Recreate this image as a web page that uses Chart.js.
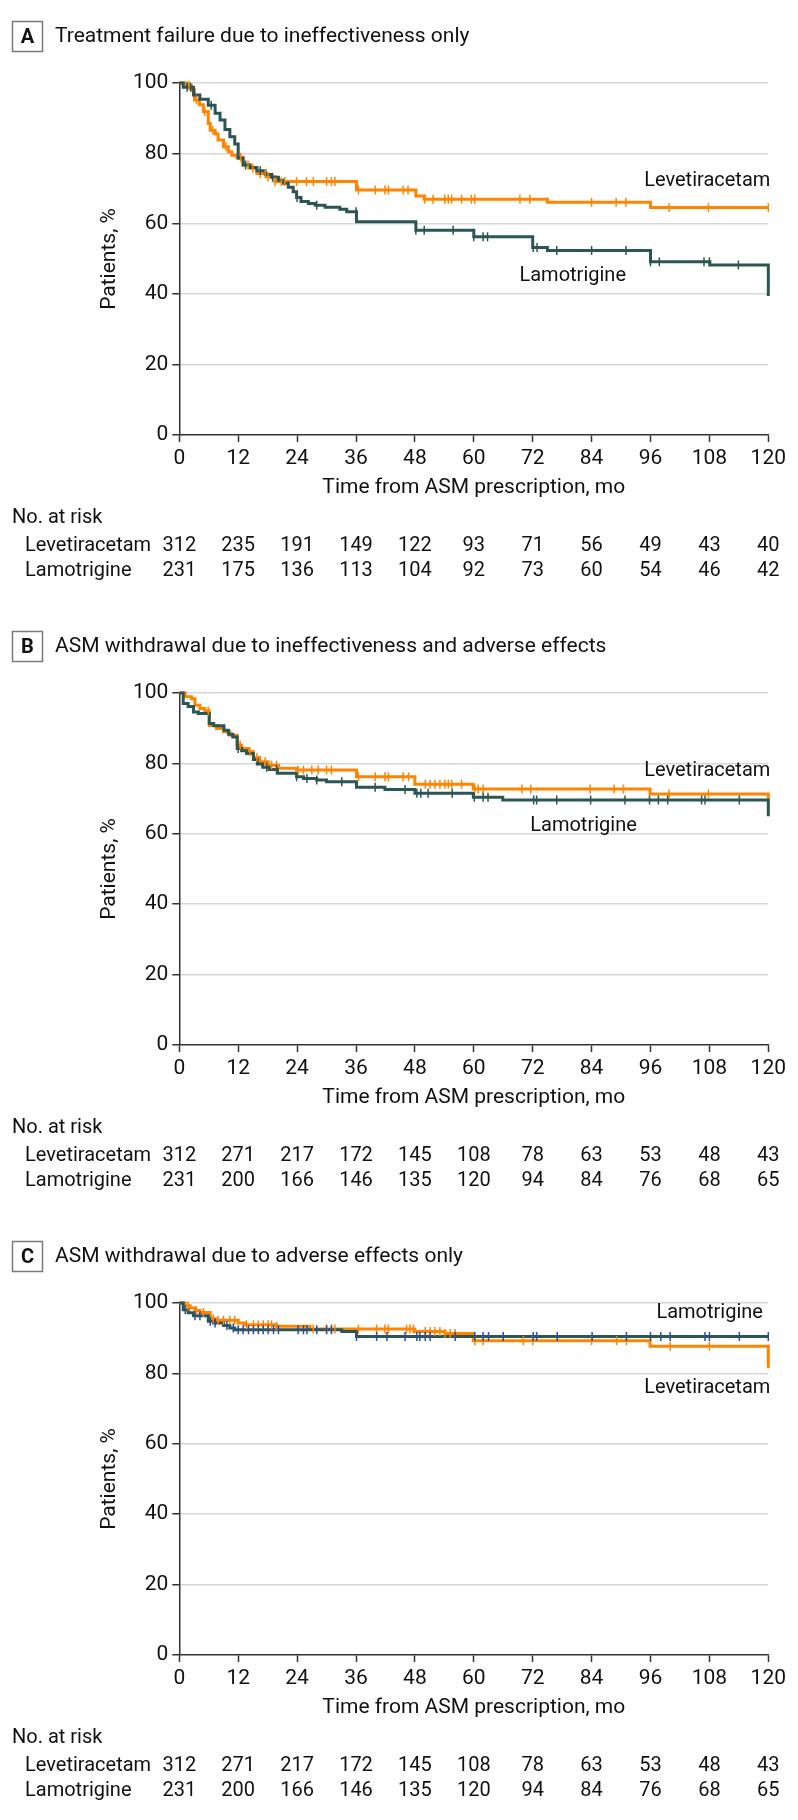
<!DOCTYPE html>
<html>
<head>
<meta charset="utf-8">
<script src="https://cdn.jsdelivr.net/npm/chart.js@4.4.0/dist/chart.umd.min.js"></script>
<style>
  body { margin: 0; background: #fff; }
  .panel { position: absolute; left: 0; width: 798px; }
  canvas { display: block; }
</style>
</head>
<body>
<div class="panel" style="top:0px"><canvas id="chartA" width="798" height="610"></canvas></div>
<div class="panel" style="top:610px"><canvas id="chartB" width="798" height="610"></canvas></div>
<div class="panel" style="top:1220px"><canvas id="chartC" width="798" height="600"></canvas></div>
<script>
// x ticks (months) shared by all panels
const monthTicks = [0, 12, 24, 36, 48, 60, 72, 84, 96, 108, 120];
const seriesNames = ["Levetiracetam", "Lamotrigine"];

// ---- Panel A: treatment failure due to ineffectiveness only
const aLevT = [0, 1.5, 2.5, 3.1, 4.1, 4.9, 5.9, 6.3, 7.3, 7.9, 9.0, 10.0, 10.7, 11.7, 13.0, 14.4, 15.8, 17.8, 19.5, 36.1, 48.2, 49.9, 75.0, 96.0, 120];
const aLevS = [100, 99.3, 98.0, 95.2, 93.8, 91.9, 88.5, 86.6, 85.5, 83.8, 81.9, 80.5, 79.5, 78.9, 76.7, 75.8, 74.3, 73.4, 72.0, 69.6, 67.9, 67.0, 66.1, 64.6, 64.6];
const aLamT = [0, 0.8, 2.9, 4.2, 5.9, 7.3, 8.3, 9.3, 10.3, 11.3, 12.0, 13.0, 14.4, 15.8, 17.5, 18.8, 20.2, 21.2, 22.2, 23.2, 23.9, 24.8, 26.3, 27.7, 29.7, 32.7, 34.1, 36.1, 48.2, 60.0, 72.0, 75.0, 96.0, 108.1, 120];
const aLamS = [100, 98.8, 96.6, 95.4, 93.7, 91.4, 89.5, 86.8, 84.7, 82.7, 78.6, 76.7, 76.0, 75.1, 74.0, 73.2, 72.4, 71.5, 70.4, 69.1, 67.5, 66.3, 65.8, 65.3, 64.7, 64.1, 63.4, 60.6, 58.2, 56.3, 53.3, 52.4, 49.2, 48.3, 39.5];
const aLevCens = [2, 3.5, 5.2, 6.8, 9.5, 12.5, 14, 15, 16.5, 17.5, 18.1, 19.5, 20.8, 21.5, 23.9, 25.9, 27.3, 30, 31, 31.7, 36.5, 39.9, 41.9, 42.6, 45.6, 46.6, 50, 51.7, 54.1, 54.8, 55.5, 57.5, 59.5, 60.2, 69.4, 71.4, 84, 89, 91, 99.8, 107.8, 120];
const aLamCens = [1.6, 2.3, 6.5, 13.5, 16.5, 19, 24, 28, 36, 48.2, 49.9, 55.8, 60, 61.9, 62.8, 72.1, 72.9, 76.9, 84, 91, 96, 97.8, 106.9, 108, 113.9];
const aLevRisk = [312, 235, 191, 149, 122, 93, 71, 56, 49, 43, 40];
const aLamRisk = [231, 175, 136, 113, 104, 92, 73, 60, 54, 46, 42];

// ---- Panel B: ineffectiveness and adverse effects
const bLevT = [0, 1.2, 2.5, 3.2, 4.2, 5.2, 6.1, 7.6, 9.0, 10.3, 11.8, 12.7, 14.1, 15.1, 16.4, 18.1, 20.2, 23.9, 36.1, 48.0, 59.9, 95.9, 120];
const bLevS = [100, 98.9, 98.4, 96.5, 95.6, 94.9, 90.8, 89.9, 89.0, 88.0, 85.2, 84.2, 83.3, 81.7, 80.5, 79.5, 78.6, 78.1, 76.2, 74.1, 72.7, 71.3, 69.0];
const bLamT = [0, 0.8, 1.8, 2.9, 3.9, 6.1, 7.0, 9.1, 10.0, 10.9, 11.8, 12.7, 13.7, 15.1, 15.9, 17.0, 18.3, 20.0, 23.9, 25.3, 28.0, 30.0, 36.1, 41.9, 48.0, 59.9, 65.9, 120];
const bLamS = [100, 97.0, 96.2, 94.6, 94.2, 91.3, 90.7, 89.4, 88.3, 87.5, 84.2, 83.6, 82.8, 81.1, 79.8, 78.9, 78.3, 77.2, 76.2, 75.7, 75.3, 74.8, 73.2, 72.6, 71.5, 70.4, 69.6, 65.0];
const bLevCens = [5.9, 12.4, 14.4, 15.8, 17.5, 18.8, 19.8, 24.2, 25.3, 27.0, 28.3, 30.0, 31.0, 36.5, 39.9, 41.9, 42.6, 45.6, 46.7, 50.1, 51.1, 52.1, 53.1, 54.1, 54.8, 55.5, 57.5, 60.2, 60.9, 61.9, 69.8, 71.6, 83.7, 88.6, 90.5, 99.8, 107.8];
const bLamCens = [12.0, 17.8, 19.8, 23.9, 26.0, 28.0, 33.1, 39.9, 46.0, 48.4, 49.2, 50.7, 55.6, 60.1, 61.9, 62.9, 72.2, 72.8, 76.9, 83.8, 90.8, 95.8, 97.6, 99.5, 106.4, 107.1, 114.1];
const bLevRisk = [312, 271, 217, 172, 145, 108, 78, 63, 53, 48, 43];
const bLamRisk = [231, 200, 166, 146, 135, 120, 94, 84, 76, 68, 65];

// ---- Panel C: adverse effects only
const cLevT = [0, 1.2, 2.2, 3.2, 4.2, 6.3, 7.6, 12.0, 13.3, 19.8, 26.6, 48.0, 54.1, 59.9, 95.9, 120];
const cLevS = [100, 99.2, 98.6, 97.9, 97.3, 95.5, 95.1, 94.3, 93.8, 93.4, 92.6, 91.9, 91.3, 89.3, 87.7, 81.5];
const cLamT = [0, 0.8, 1.8, 2.9, 5.9, 7.0, 9.0, 10.3, 11.3, 33.1, 36.1, 120];
const cLamS = [100, 98.1, 97.2, 96.4, 94.8, 94.3, 93.6, 92.9, 92.4, 91.9, 90.5, 90.5];
const cLevCens = [1.8, 3.5, 4.9, 6.9, 7.9, 9.0, 10.3, 11.3, 13.7, 15.1, 16.1, 17.1, 18.1, 18.8, 19.8, 27.3, 30, 31, 31.7, 36.5, 40.2, 41.9, 42.6, 46.3, 47, 47.7, 50.1, 51.1, 52.1, 53.1, 54.1, 55.2, 56.2, 60.2, 61.9, 70.1, 72, 84, 89.1, 91.1, 100, 108];
const cLamCens = [1.2, 3.2, 4.2, 6.3, 7.3, 9.7, 11, 12, 13, 14.1, 15.1, 16.1, 17.1, 18.1, 19.2, 20.2, 24.2, 25.3, 26, 28, 30, 31, 36.1, 40.2, 42.3, 46, 48.4, 49, 50.1, 51.1, 56.2, 60.2, 61.9, 63, 66, 72.1, 72.8, 77, 84.1, 91.1, 96, 98.1, 100, 107.1, 108, 114.1, 120];
const cLevRisk = [312, 271, 217, 172, 145, 108, 78, 63, 53, 48, 43];
const cLamRisk = [231, 200, 166, 146, 135, 120, 94, 84, 76, 68, 65];

const ORANGE = "#ff8400";
const TEAL = "#2b5654";
const BLUE = "#2b4d9e";
const TEXT = "#111";
const FONT = "Roboto";

function steps(T, S) {
  return T.map((t, i) => ({ x: t, y: S[i] }));
}

// survival value at time t
function survAt(T, S, t) {
  let v = S[0];
  for (let i = 0; i < T.length; i++) {
    if (T[i] <= t && !(T[i] === 120 && i === T.length - 1 && S[i] < S[i - 1] && t < 120)) v = S[i];
  }
  return v;
}

function cens(T, S, C) {
  return C.map((t) => ({ x: t, y: survAt(T, S, t) }));
}

const panels = [
  {
    id: "chartA", height: 610, letter: "A",
    title: "Treatment failure due to ineffectiveness only",
    lev: [aLevT, aLevS, aLevCens], lam: [aLamT, aLamS, aLamCens],
    risk: [aLevRisk, aLamRisk], lamCensColor: TEAL,
    labels: [
      { text: seriesNames[0], x: 120, y: 72.2 },
      { text: seriesNames[1], x: 90.6, y: 45.2 },
    ],
  },
  {
    id: "chartB", height: 610, letter: "B",
    title: "ASM withdrawal due to ineffectiveness and adverse effects",
    lev: [bLevT, bLevS, bLevCens], lam: [bLamT, bLamS, bLamCens],
    risk: [bLevRisk, bLamRisk], lamCensColor: TEAL,
    labels: [
      { text: seriesNames[0], x: 120, y: 77.9 },
      { text: seriesNames[1], x: 92.8, y: 62.3 },
    ],
  },
  {
    id: "chartC", height: 600, letter: "C",
    title: "ASM withdrawal due to adverse effects only",
    lev: [cLevT, cLevS, cLevCens], lam: [cLamT, cLamS, cLamCens],
    risk: [cLevRisk, cLamRisk], lamCensColor: BLUE,
    labels: [
      { text: seriesNames[1], x: 118.5, y: 97.2 },
      { text: seriesNames[0], x: 120, y: 75.9 },
    ],
  },
];

function makePanel(p) {
  const textPlugin = {
    id: "kmText",
    afterDraw(chart) {
      const ctx = chart.ctx;
      const xs = chart.scales.x;
      const ys = chart.scales.y;
      ctx.save();
      // panel letter box
      ctx.strokeStyle = "#7a7a7a";
      ctx.lineWidth = 1.5;
      ctx.strokeRect(12.5, 21.5, 30, 30);
      ctx.fillStyle = TEXT;
      ctx.textBaseline = "middle";
      ctx.textAlign = "center";
      ctx.font = "bold 20px " + FONT;
      ctx.fillText(p.letter, 27.5, 37.5);
      ctx.textAlign = "left";
      ctx.font = "21px " + FONT;
      ctx.fillText(p.title, 55, 37);

      // axis titles
      ctx.textAlign = "center";
      ctx.font = "21px " + FONT;
      ctx.fillText("Time from ASM prescription, mo", (xs.left + xs.right) / 2, 488);
      ctx.save();
      ctx.translate(110, (ys.top + ys.bottom) / 2);
      ctx.rotate(-Math.PI / 2);
      ctx.fillText("Patients, %", 0, 0);
      ctx.restore();

      // curve labels
      ctx.textAlign = "right";
      ctx.font = "20px " + FONT;
      p.labels.forEach((l) => {
        ctx.fillText(l.text, xs.getPixelForValue(l.x) + 2, ys.getPixelForValue(l.y));
      });

      // number at risk table
      ctx.textAlign = "left";
      ctx.fillText("No. at risk", 12, 518);
      ctx.fillText(seriesNames[0], 25, 546);
      ctx.fillText(seriesNames[1], 25, 571);
      ctx.textAlign = "center";
      monthTicks.forEach((m, i) => {
        const px = xs.getPixelForValue(m);
        ctx.fillText(String(p.risk[0][i]), px, 546);
        ctx.fillText(String(p.risk[1][i]), px, 571);
      });
      ctx.restore();
    },
  };

  new Chart(document.getElementById(p.id), {
    type: "line",
    data: {
      datasets: [
        {
          label: seriesNames[0],
          data: steps(p.lev[0], p.lev[1]),
          borderColor: ORANGE, borderWidth: 3, stepped: "before",
          pointRadius: 0, fill: false, clip: false, order: 4,
        },
        {
          label: seriesNames[1],
          data: steps(p.lam[0], p.lam[1]),
          borderColor: TEAL, borderWidth: 3, stepped: "before",
          pointRadius: 0, fill: false, clip: false, order: 3,
        },
        {
          type: "scatter",
          label: seriesNames[0] + " censored",
          data: cens(p.lev[0], p.lev[1], p.lev[2]),
          pointStyle: "line", rotation: 90, pointRadius: 4.5,
          borderColor: ORANGE, pointBorderWidth: 1.5, clip: false, order: 2,
        },
        {
          type: "scatter",
          label: seriesNames[1] + " censored",
          data: cens(p.lam[0], p.lam[1], p.lam[2]),
          pointStyle: "line", rotation: 90, pointRadius: 4.5,
          borderColor: p.lamCensColor, pointBorderWidth: 1.5, clip: false, order: 1,
        },
      ],
    },
    options: {
      responsive: false,
      animation: false,
      events: [],
      layout: { padding: { left: 0, top: 83, right: 29.7, bottom: p.height - 435 - 60 } },
      plugins: { legend: { display: false }, tooltip: { enabled: false } },
      scales: {
        x: {
          type: "linear", min: 0, max: 120,
          afterFit(scale) { scale.height = 60; },
          afterBuildTicks(scale) { scale.ticks = monthTicks.map((v) => ({ value: v })); },
          ticks: { color: TEXT, font: { family: FONT, size: 21 }, padding: 4, maxRotation: 0 },
          grid: { drawOnChartArea: false, tickLength: 7, tickColor: "#333", tickWidth: 1.5 },
          border: { color: "#333", width: 1.5 },
        },
        y: {
          min: 0, max: 100,
          afterFit(scale) { scale.width = 179.3; },
          ticks: { stepSize: 20, color: TEXT, font: { family: FONT, size: 21 }, padding: 4 },
          grid: {
            color: (c) => (c.tick && c.tick.value === 0 ? "rgba(0,0,0,0)" : "#d6d6d6"),
            lineWidth: 1.5, tickLength: 7, tickColor: "#333", tickWidth: 1.5,
          },
          border: { color: "#333", width: 1.5 },
        },
      },
    },
    plugins: [textPlugin],
  });
}

panels.forEach(makePanel);
</script>
</body>
</html>
